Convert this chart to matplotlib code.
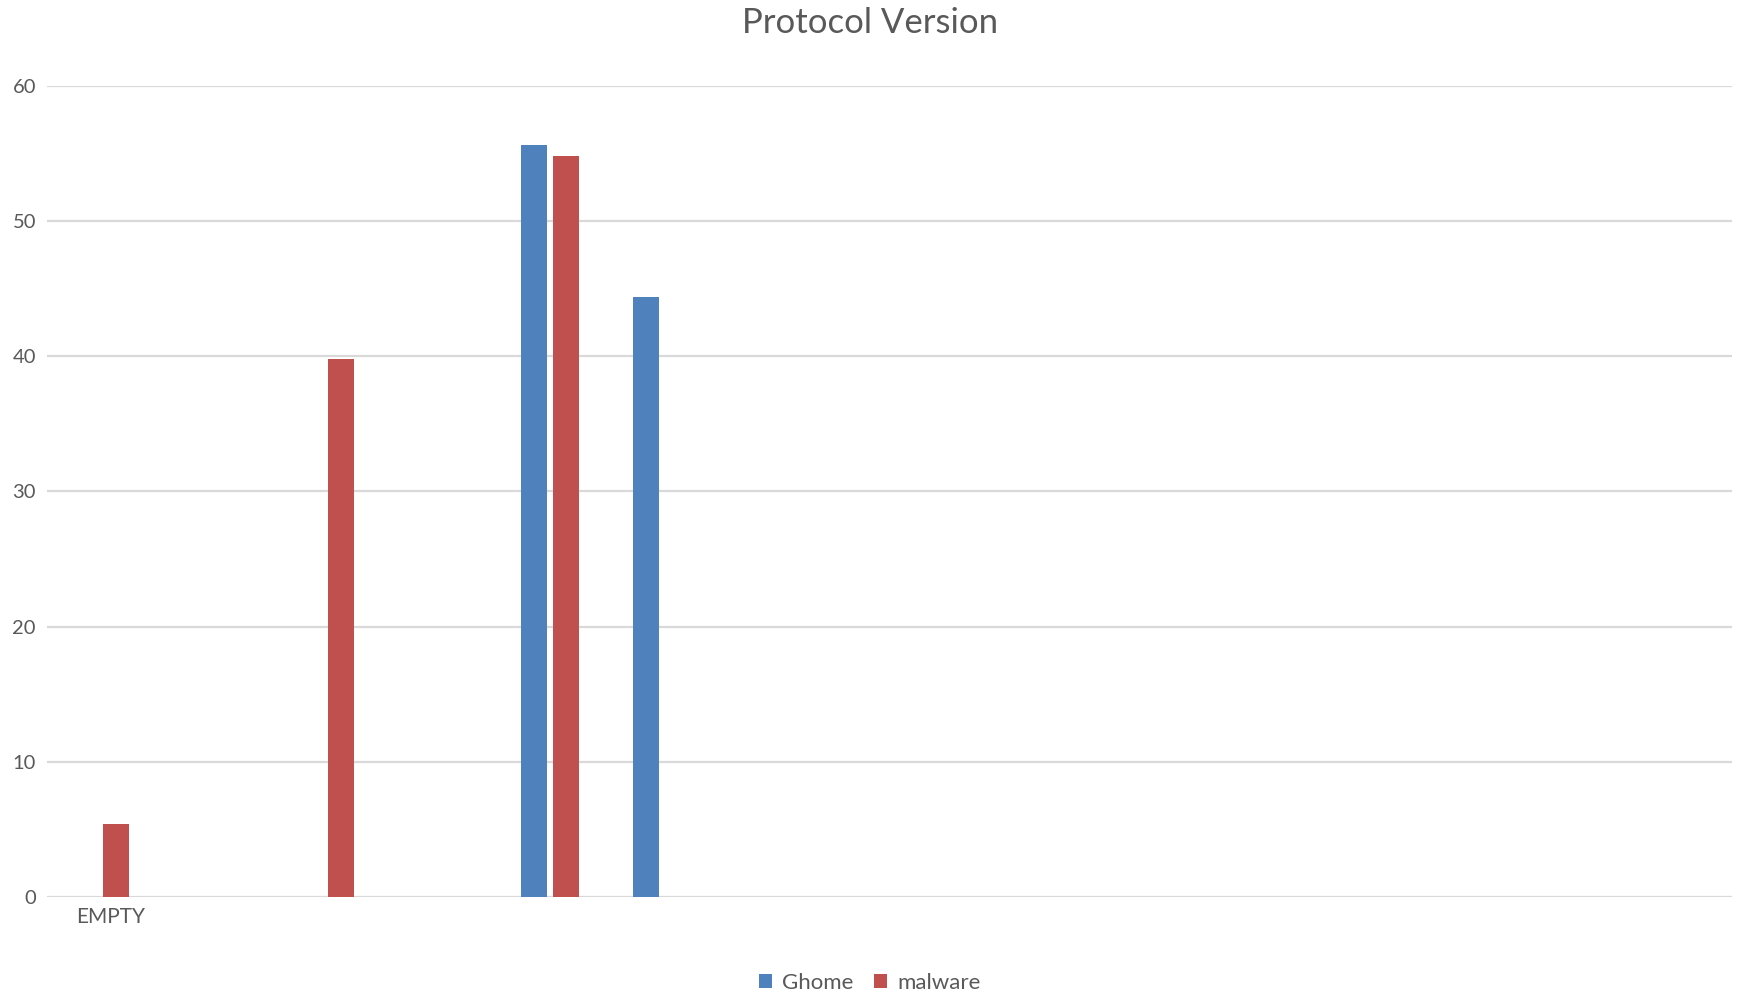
import numpy as np
import matplotlib
matplotlib.use("Agg")
import matplotlib.pyplot as plt
from matplotlib.transforms import ScaledTranslation

plt.rcParams['font.family'] = ['Lato', 'DejaVu Sans']

# protocol version categories (only the first one carries a name)
categories = ["EMPTY"] + [""] * 14
ghome = [0, 0, 0, 0, 55.6, 44.4, 0, 0, 0, 0, 0, 0, 0, 0, 0]
malware = [5.4, 0, 39.8, 0, 54.8, 0, 0, 0, 0, 0, 0, 0, 0, 0, 0]

blue = "#4F81BD"
red = "#C0504D"
text_col = "#595959"
grid_col = "#D9D9D9"

fig = plt.figure(figsize=(17.43, 9.99), dpi=100)
ax = fig.add_axes([0.027, 0.102, 0.9667, 0.8123])

x = np.arange(len(categories))
w = 0.2315
off = 0.1425
ax.bar(x - off, ghome, w, color=blue, label="Ghome", zorder=3)
ax.bar(x + off, malware, w, color=red, label="malware", zorder=3)

ax.set_xlim(-0.475, len(categories) - 0.475)
ax.set_ylim(0, 60)
ax.set_yticks(range(0, 61, 10))
ax.set_xticks(x)
ax.set_xticklabels(categories)
ax.yaxis.grid(True, color=grid_col, linewidth=1.6, zorder=0)
ax.set_axisbelow(True)
for s in ["top", "right", "left", "bottom"]:
    ax.spines[s].set_visible(False)
ax.tick_params(axis="both", length=0, labelsize=14.5, colors=text_col)
ax.tick_params(axis="y", pad=8)
ax.tick_params(axis="x", pad=7, labelsize=15)

# nudge the category labels a little to the right
shift = ScaledTranslation(10 / 100, 0, fig.dpi_scale_trans)
for lbl in ax.get_xticklabels():
    lbl.set_transform(lbl.get_transform() + shift)

fig.suptitle("Protocol Version", x=0.499, y=0.9925, fontsize=25, color=text_col)

leg = fig.legend(loc="lower center", bbox_to_anchor=(0.499, -0.014), ncol=2,
                 frameon=False, fontsize=16, handlelength=0.6, handleheight=0.6,
                 handletextpad=0.45, columnspacing=0.9)
for t in leg.get_texts():
    t.set_color(text_col)

fig.savefig("out.png", dpi=100, facecolor="white")
